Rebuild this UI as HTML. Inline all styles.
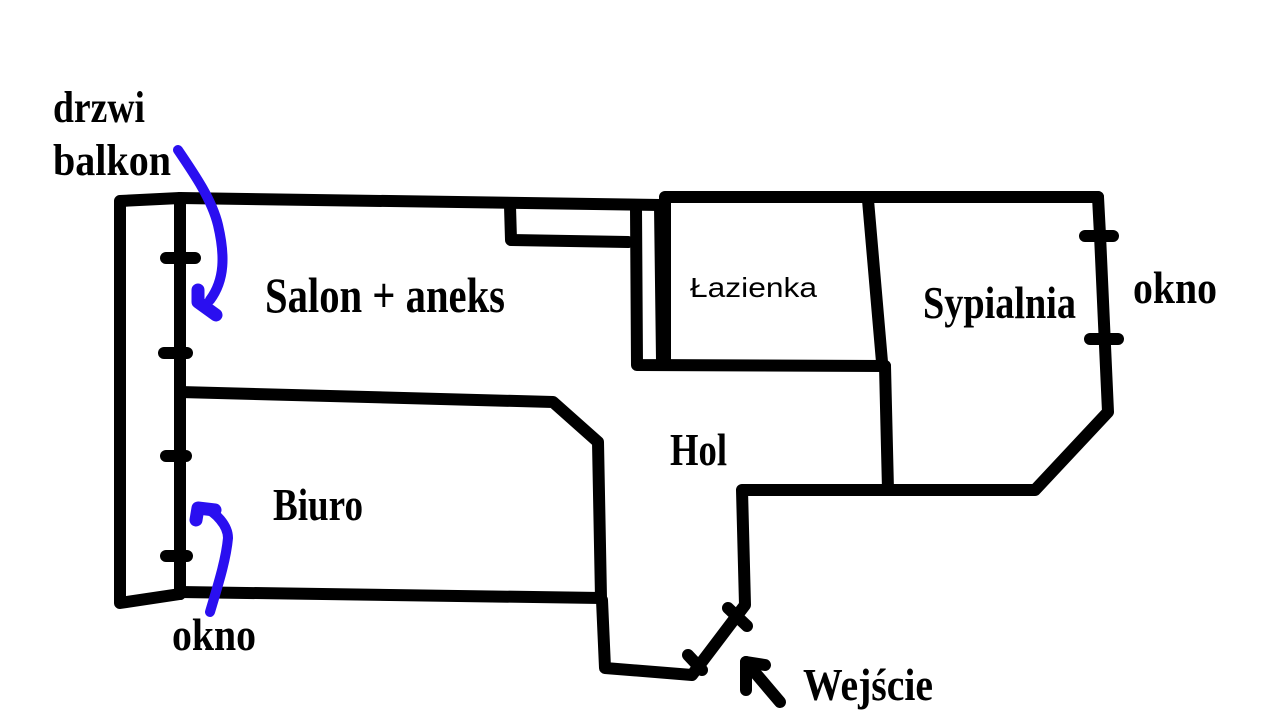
<!DOCTYPE html>
<html><head><meta charset="utf-8"><style>
html,body{margin:0;padding:0;background:#fff;width:1280px;height:720px;overflow:hidden}
text.b{font-family:"Liberation Serif",serif;font-weight:bold;fill:#000}
</style></head><body>
<svg width="1280" height="720" viewBox="0 0 1280 720" xmlns="http://www.w3.org/2000/svg">
<g fill="none" stroke="#000" stroke-width="12" stroke-linejoin="round" stroke-linecap="round">
<polyline points="180,198 120,201 120,603 180,594"/>
<line x1="180" y1="198" x2="180" y2="594"/>
<polyline points="180,198 660,205"/>
<polyline points="510,206 511,240 628,242"/>
<polyline points="660,206 662,360"/>
<polyline points="636,208 637,365 885,366"/>
<polyline points="665,360 665,197 1098,197"/>
<polyline points="868,200 882,362"/>
<polyline points="885,366 888,490"/>
<polyline points="1098,197 1100,235 1108,412 1035,490 888,490"/>
<polyline points="888,490 742,490 745,605 692,675 605,668 602,600"/>
<polyline points="180,392 553,402 598,442 601,598 180,592"/>
<line x1="166" y1="258" x2="195" y2="258"/>
<line x1="164" y1="353" x2="187" y2="353"/>
<line x1="166" y1="456" x2="186" y2="456"/>
<line x1="166" y1="556" x2="187" y2="556"/>
<line x1="1085" y1="236" x2="1113" y2="236"/>
<line x1="1090" y1="339" x2="1118" y2="339"/>
<line x1="728" y1="608" x2="747" y2="626"/>
<line x1="688" y1="655" x2="702" y2="670"/>
<line x1="746" y1="662" x2="780" y2="702"/>
<polyline points="746,690 746,662 765,665"/>
</g>
<g fill="none" stroke="#2a0ff0" stroke-width="10" stroke-linecap="round" stroke-linejoin="round">
<path d="M178,150 C195,175 212,200 218,225 C225,255 225,280 210,300"/>
<polyline points="198,290 198,302 216,315" stroke-width="13"/>
<path d="M210,612 C218,585 226,560 228,538 C228,525 215,512 205,508"/>
<polyline points="196,520 198,508 215,510" stroke-width="13"/>
</g>
<text class="b" x="53" y="122" font-size="44" textLength="92" lengthAdjust="spacingAndGlyphs">drzwi</text>
<text class="b" x="53" y="175" font-size="44" textLength="118" lengthAdjust="spacingAndGlyphs">balkon</text>
<text class="b" x="265" y="312" font-size="50" textLength="240" lengthAdjust="spacingAndGlyphs">Salon + aneks</text>
<text x="690" y="297" font-family="'Liberation Sans','DejaVu Sans',sans-serif" font-size="28" fill="#000" textLength="127" lengthAdjust="spacingAndGlyphs">Łazienka</text>
<text class="b" x="923" y="318" font-size="46" textLength="153" lengthAdjust="spacingAndGlyphs">Sypialnia</text>
<text class="b" x="1133" y="303" font-size="46" textLength="84" lengthAdjust="spacingAndGlyphs">okno</text>
<text class="b" x="670" y="465" font-size="46" textLength="57" lengthAdjust="spacingAndGlyphs">Hol</text>
<text class="b" x="273" y="520" font-size="46" textLength="90" lengthAdjust="spacingAndGlyphs">Biuro</text>
<text class="b" x="172" y="650" font-size="46" textLength="84" lengthAdjust="spacingAndGlyphs">okno</text>
<text class="b" x="803" y="700" font-size="46" textLength="130" lengthAdjust="spacingAndGlyphs">Wejście</text>
</svg>
</body></html>
